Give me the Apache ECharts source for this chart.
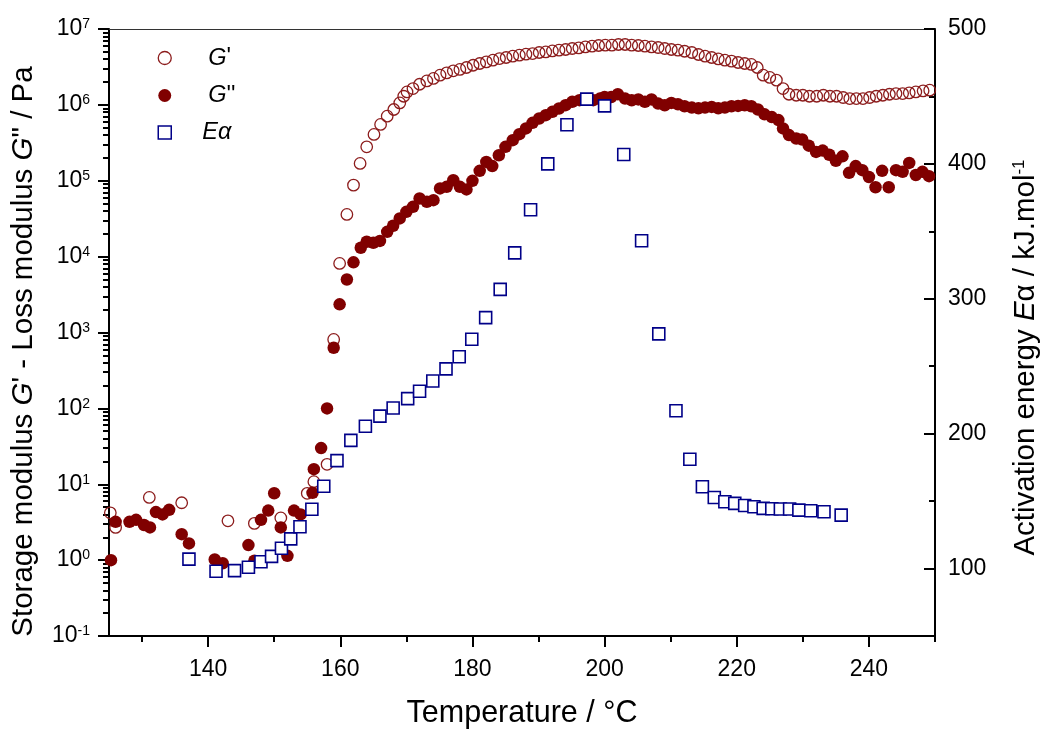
<!DOCTYPE html>
<html><head><meta charset="utf-8">
<script src="https://cdn.jsdelivr.net/npm/echarts@6/dist/echarts.min.js"></script>
<style>html,body{margin:0;padding:0;background:#fff}#c{width:1043px;height:729px}</style>
</head><body><div id="c"></div>
<script>
// ---- Data ----
const gpT = [125.2,126.0,131.1,136.0,143.0,147.0,151.0,155.0,156.0,158.0,159.0,159.9,161.0,162.0,163.0,164.0,165.1,166.1,167.1,168.1,169.0,169.6,170.1,171.0,172.0,173.1,174.1,175.1,176.1,177.1,178.1,179.1,180.1,181.1,182.1,183.1,184.1,185.1,186.1,187.1,188.1,189.1,190.1,191.1,192.1,193.1,194.1,195.1,196.1,197.1,198.1,199.1,200.1,201.1,202.1,203.1,204.1,205.1,206.1,207.1,208.1,209.1,210.1,211.1,212.1,213.2,214.2,215.2,216.2,217.2,218.2,219.2,220.2,221.2,222.2,223.1,224.0,225.0,226.0,227.0,227.9,229.0,230.0,231.0,232.1,233.1,234.1,235.1,236.1,237.1,238.1,239.1,240.1,241.1,242.1,243.1,244.1,245.1,246.1,247.1,248.2,249.2];
const gpV = [4.2,2.7,6.7,5.7,3.3,3.05,3.6,7.6,10.8,18.3,811,8130,36000,87500,169000,280000,408000,552000,710000,869000,1.06e6,1.30e6,1.48e6,1.64e6,1.87e6,2.07e6,2.23e6,2.46e6,2.64e6,2.81e6,2.93e6,3.11e6,3.33e6,3.51e6,3.69e6,3.88e6,4.08e6,4.21e6,4.38e6,4.52e6,4.66e6,4.75e6,4.90e6,4.99e6,5.14e6,5.26e6,5.37e6,5.53e6,5.64e6,5.81e6,5.93e6,6.06e6,6.12e6,6.12e6,6.25e6,6.25e6,6.12e6,6.06e6,5.93e6,5.81e6,5.70e6,5.53e6,5.37e6,5.26e6,5.09e6,4.90e6,4.61e6,4.38e6,4.21e6,4.04e6,3.88e6,3.77e6,3.62e6,3.51e6,3.41e6,3.11e6,2.46e6,2.30e6,2.12e6,1.64e6,1.38e6,1.34e6,1.34e6,1.30e6,1.30e6,1.34e6,1.30e6,1.30e6,1.25e6,1.21e6,1.21e6,1.21e6,1.25e6,1.30e6,1.34e6,1.38e6,1.41e6,1.41e6,1.44e6,1.48e6,1.53e6,1.56e6];

const gppT = [125.3,126.0,128.1,129.1,130.3,131.2,132.1,133.1,134.1,136.0,137.1,141.0,142.2,146.1,147.0,148.0,149.1,150.0,151.0,152.0,153.0,154.0,155.8,156.0,157.1,158.0,159.0,159.9,161.0,162.0,163.1,164.0,165.0,166.0,167.1,168.0,169.0,170.0,171.0,172.0,173.1,174.1,175.1,176.1,177.1,178.1,179.1,180.0,181.1,182.1,183.0,184.0,185.0,186.1,187.1,188.1,189.1,190.1,191.1,192.1,193.1,194.1,195.1,196.2,197.2,198.3,199.3,200.0,201.0,202.0,203.1,204.1,205.1,206.1,207.1,208.1,209.1,210.1,211.1,212.1,213.2,214.2,215.2,216.2,217.2,218.2,219.2,220.2,221.2,222.2,223.2,224.2,225.3,226.3,227.0,227.9,229.0,229.9,230.9,232.0,233.0,234.0,235.0,236.0,237.0,238.0,239.0,240.0,241.0,242.0,243.0,244.1,245.1,246.1,247.1,248.1,249.1];
const gppV = [1.0,3.2,3.2,3.4,2.9,2.7,4.3,4.0,4.6,2.2,1.66,1.02,0.91,1.58,0.98,3.4,4.5,7.6,2.7,1.14,4.5,4.0,7.7,15.8,30,100,630,2350,5000,8400,13100,15700,15200,16100,21200,25500,31900,38900,45300,58400,52700,55500,79200,83200,101900,83200,76800,99800,135000,177000,156000,217000,280000,343000,411000,489000,580000,662000,731000,809000,897000,991000,1.096e6,1.154e6,1.19e6,1.154e6,1.21e6,1.27e6,1.27e6,1.38e6,1.21e6,1.15e6,1.18e6,1.10e6,1.18e6,1.04e6,9.9e5,1.06e6,1.02e6,9.6e5,9.2e5,9.0e5,9.2e5,9.4e5,9.0e5,9.2e5,9.6e5,9.7e5,9.9e5,9.6e5,8.7e5,7.5e5,6.9e5,6.3e5,4.9e5,4.0e5,3.6e5,3.5e5,2.9e5,2.4e5,2.5e5,2.2e5,1.83e5,2.1e5,1.27e5,1.56e5,1.38e5,1.12e5,8.2e4,1.35e5,8.2e4,1.38e5,1.31e5,1.72e5,1.19e5,1.31e5,1.15e5];

const eaT = [137.1,141.2,144.0,146.1,148.0,149.6,151.1,152.5,153.9,155.7,157.5,159.5,161.6,163.8,166.0,168.0,170.2,172.0,174.0,176.0,178.0,179.9,182.0,184.2,186.4,188.8,191.4,194.3,197.3,200.0,202.9,205.6,208.2,210.8,212.9,214.8,216.6,218.2,219.7,221.2,222.6,224.0,225.3,226.6,228.0,229.4,231.2,233.2,235.8];
const eaV = [107,98,98.5,101,105,109,115,122,131,144,161,180,195,205.5,213,219,226,231.5,239,248,257,270,286,307,334,366,400,429,448,443,407,343,274,217,181,160.6,152.7,149.5,148.3,146.8,145.8,144.6,144.3,144.1,144.1,143.3,142.8,142.1,139.6];

const xMajorTicks = [140,160,180,200,220,240];
const xMinorTicks = [130,150,170,190,210,230,250];
const rightMajorTicks = [100,200,300,400,500];
const rightMinorTicks = [150,250,350,450];
const logMinorMultipliers = [2,3,4,5,6,7,8,9];
const logDecades = [-1,0,1,2,3,4,5,6];

// ---- Chart ----
const FONT = 'Liberation Sans, Arial, sans-serif';
const RED_OPEN = '#8c1c1c';
const RED_FILL = '#800000';
const NAVY = '#000088';
const TITLE_SIZE = 29.5;
const LEG_SIZE = 23.5;

const logMinorPositions = [];
logDecades.forEach(k => logMinorMultipliers.forEach(m => logMinorPositions.push(k + Math.log10(m))));

const chart = echarts.init(document.getElementById('c'), null, {renderer: 'canvas'});
const black = {color: '#000', width: 2};
const legRich = {
  i: {fontStyle: 'italic', fontSize: LEG_SIZE, lineHeight: 20, fontFamily: FONT, color: '#000'},
  n: {fontSize: LEG_SIZE, lineHeight: 20, fontFamily: FONT, color: '#000'}
};

chart.setOption({
  animation: false,
  backgroundColor: '#fff',
  textStyle: {fontFamily: FONT},
  grid: {left: 109, right: 108, top: 29, bottom: 93, containLabel: false, outerBoundsMode: 'none'},
  legend: {
    orient: 'vertical', left: 157.5, top: 46, padding: 0,
    itemWidth: 13, itemHeight: 13, itemGap: 13.5,
    selectedMode: false,
    textStyle: {fontFamily: FONT, fontSize: LEG_SIZE, color: '#000', padding: [0, 0, 0, 32], rich: legRich},
    formatter: function (name) {
      if (name === "G'") return "{i|G}{n|'}";
      if (name === "G''") return "{i|G}{n|''}";
      return '{i|E}{i|α}';
    },
    data: [
      {name: "G'", icon: 'circle', itemStyle: {color: 'rgba(0,0,0,0)', borderColor: RED_OPEN, borderWidth: 1.3, opacity: 1}},
      {name: "G''", icon: 'circle', itemStyle: {color: RED_FILL, borderWidth: 0, opacity: 1}},
      {name: 'Eα', icon: 'rect', itemStyle: {color: '#fff', borderColor: NAVY, borderWidth: 1.5, opacity: 1},
       textStyle: {fontFamily: FONT, fontSize: LEG_SIZE, color: '#000', padding: [0, 0, 0, 26], rich: legRich}}
    ]
  },
  xAxis: [
    {
      type: 'value', min: 125, max: 250, position: 'bottom',
      axisLine: {onZero: false, lineStyle: black},
      axisTick: {customValues: xMajorTicks, length: 11, lineStyle: black},
      axisLabel: {customValues: xMajorTicks, fontSize: 23, margin: 22, color: '#000', fontFamily: FONT},
      splitLine: {show: false},
      name: 'Temperature / °C', nameLocation: 'middle', nameGap: 62,
      nameTextStyle: {fontSize: 30.5, color: '#000', fontFamily: FONT}
    },
    {
      type: 'value', min: 125, max: 250, position: 'bottom',
      axisLine: {show: false, onZero: false},
      axisTick: {customValues: xMinorTicks, length: 6, lineStyle: black},
      axisLabel: {show: false}, splitLine: {show: false}
    },
    {
      type: 'value', min: 125, max: 250, position: 'top',
      axisLine: {onZero: false, lineStyle: {color: '#333', width: 1}},
      axisTick: {show: false}, axisLabel: {show: false}, splitLine: {show: false}
    }
  ],
  yAxis: [
    {
      type: 'log', logBase: 10, min: 0.1, max: 1e7, position: 'left',
      axisLine: {show: true, onZero: false, lineStyle: black},
      axisTick: {show: true, length: 11, lineStyle: black},
      axisLabel: {
        margin: 19, color: '#000', fontFamily: FONT, fontSize: 23,
        formatter: function (v) { return '10{s|' + Math.round(Math.log10(v)) + '}'; },
        rich: {s: {fontSize: 14, verticalAlign: 'top', lineHeight: 14, fontFamily: FONT, color: '#000', padding: [0, 0, 8, 0]}}
      },
      splitLine: {show: false}, minorSplitLine: {show: false},
      name: "Storage modulus {i|G}' - Loss modulus {i|G}\" / Pa",
      nameLocation: 'middle', nameGap: 70, nameRotate: 90,
      nameTextStyle: {fontSize: TITLE_SIZE, color: '#000', fontFamily: FONT, padding: [0, 38, 0, 0],
        rich: {i: {fontStyle: 'italic', fontSize: TITLE_SIZE, fontFamily: FONT, color: '#000'}}}
    },
    {
      type: 'value', min: 50, max: 500, position: 'right',
      axisLine: {show: true, onZero: false, lineStyle: black},
      axisTick: {show: true, inside: true, customValues: rightMajorTicks, length: 11, lineStyle: black},
      axisLabel: {customValues: rightMajorTicks, margin: 13, color: '#000', fontFamily: FONT, fontSize: 23},
      splitLine: {show: false},
      name: 'Activation energy {i|E}α / kJ.mol{s|-1}',
      nameLocation: 'middle', nameGap: 76, nameRotate: 90,
      nameTextStyle: {fontSize: TITLE_SIZE, color: '#000', fontFamily: FONT, padding: [0, 50, 0, 0],
        rich: {i: {fontStyle: 'italic', fontSize: TITLE_SIZE, fontFamily: FONT, color: '#000'},
               s: {fontSize: 17, verticalAlign: 'top', fontFamily: FONT, color: '#000', padding: [0, 0, 10, 0]}}}
    },
    {
      type: 'value', min: -1, max: 7, position: 'left',
      axisLine: {show: false, onZero: false},
      axisTick: {show: true, customValues: logMinorPositions, length: 6, lineStyle: black},
      axisLabel: {show: false}, splitLine: {show: false}
    },
    {
      type: 'value', min: 50, max: 500, position: 'right',
      axisLine: {show: false, onZero: false},
      axisTick: {show: true, inside: true, customValues: rightMinorTicks, length: 6, lineStyle: black},
      axisLabel: {show: false}, splitLine: {show: false}
    }
  ],
  series: [
    {
      name: "G'", type: 'scatter', xAxisIndex: 0, yAxisIndex: 0,
      symbol: 'circle', symbolSize: 11.5,
      itemStyle: {color: 'rgba(0,0,0,0)', borderColor: RED_OPEN, borderWidth: 1.3, opacity: 1},
      data: gpT.map((t, i) => [t, gpV[i]]), z: 2
    },
    {
      name: "G''", type: 'scatter', xAxisIndex: 0, yAxisIndex: 0,
      symbol: 'circle', symbolSize: 12.5,
      itemStyle: {color: RED_FILL, opacity: 1},
      data: gppT.map((t, i) => [t, gppV[i]]), z: 3
    },
    {
      name: 'Eα', type: 'scatter', xAxisIndex: 0, yAxisIndex: 1,
      symbol: 'rect', symbolSize: 12,
      itemStyle: {color: '#fff', borderColor: NAVY, borderWidth: 1.6, opacity: 1},
      data: eaT.map((t, i) => [t, eaV[i]]), z: 4
    }
  ]
});
</script>
</body></html>
